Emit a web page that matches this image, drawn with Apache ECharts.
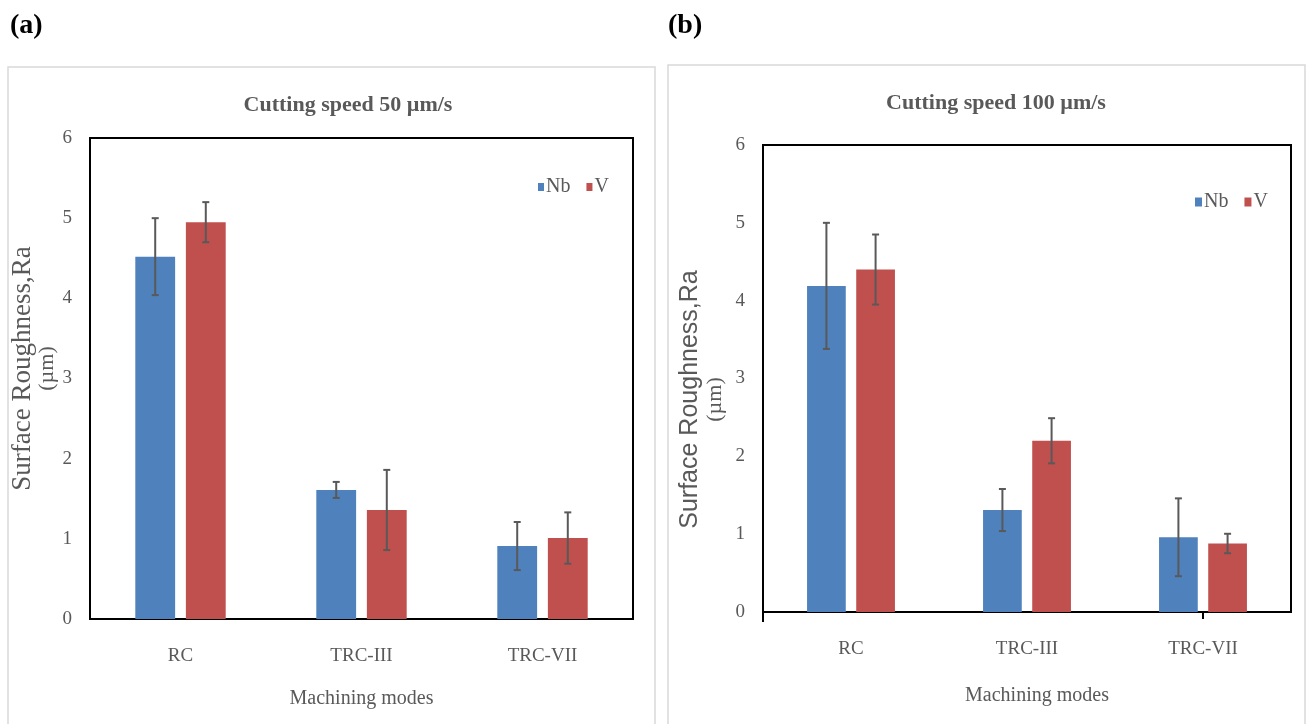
<!DOCTYPE html>
<html>
<head>
<meta charset="utf-8">
<title>Surface roughness by machining mode</title>
<script src="https://cdn.jsdelivr.net/npm/echarts@6/dist/echarts.min.js"></script>
<style>
  html, body { margin: 0; padding: 0; background: #fff; }
  #chart { width: 1309px; height: 724px; }
</style>
</head>
<body>
<div id="chart"></div>
<script>
// Machining modes on the category axis
const categories = ['RC', 'TRC-III', 'TRC-VII'];
// Value-axis tick labels
const yTicks = [0, 1, 2, 3, 4, 5, 6];

// Cutting speed 50 µm/s: mean Ra and error (±)
const nb50 = [4.52, 1.61, 0.91];
const nb50Err = [0.48, 0.10, 0.30];
const v50 = [4.95, 1.36, 1.01];
const v50Err = [0.25, 0.50, 0.32];

// Cutting speed 100 µm/s: mean Ra and error (±)
const nb100 = [4.19, 1.31, 0.96];
const nb100Err = [0.81, 0.27, 0.50];
const v100 = [4.40, 2.20, 0.88];
const v100Err = [0.45, 0.29, 0.125];

const BLUE = '#4f81bd';
const RED = '#c0504d';
const GREY = '#595959';
const SERIF = '"Liberation Serif", "DejaVu Serif", serif';
const SANS = '"Liberation Sans", Arial, sans-serif';

const BAR_FRAC = 0.22;   // bar width as share of a category band
const GAP_FRAC = 0.27;   // gap between paired bars as share of bar width

// Plot areas of the two panels
const GRID_A = { left: 90, top: 138, width: 543, height: 481 };
const GRID_B = { left: 763, top: 145, width: 528, height: 467 };

// Error whiskers centred on each bar of a pair (sign -1 = first bar, +1 = second)
function whiskers(sign) {
  return function (params, api) {
    const i = api.value(0);
    const val = api.value(1);
    const err = api.value(2);
    const band = api.size([1, 0])[0];
    const bw = band * BAR_FRAC;
    const off = sign * bw * (1 + GAP_FRAC) / 2;
    const top = api.coord([i, val + err]);
    const bot = api.coord([i, val - err]);
    const x = top[0] + off;
    const cap = 3.5;
    const style = { stroke: GREY, lineWidth: 2 };
    return {
      type: 'group',
      children: [
        { type: 'line', shape: { x1: x, y1: top[1], x2: x, y2: bot[1] }, style },
        { type: 'line', shape: { x1: x - cap, y1: top[1], x2: x + cap, y2: top[1] }, style },
        { type: 'line', shape: { x1: x - cap, y1: bot[1], x2: x + cap, y2: bot[1] }, style }
      ]
    };
  };
}

function errData(vals, errs) {
  return vals.map((v, i) => [i, v, errs[i]]);
}

function yAxisFor(gridIndex, firstLineFont, firstLineSize, namePadding, gap) {
  return {
    type: 'value', gridIndex, min: yTicks[0], max: yTicks[yTicks.length - 1], interval: 1,
    splitLine: { show: false },
    axisLine: { show: false },
    axisTick: { show: false },
    axisLabel: { color: GREY, fontFamily: SERIF, fontSize: 19, margin: 18 },
    name: '{a|Surface Roughness,Ra}\n{b|(µm)}',
    nameLocation: 'middle',
    nameGap: gap,
    nameRotate: 90,
    nameTextStyle: {
      color: GREY,
      padding: namePadding,
      rich: {
        a: { fontFamily: firstLineFont, fontSize: firstLineSize, color: GREY, lineHeight: 25 },
        b: { fontFamily: SERIF, fontSize: 22, color: GREY, lineHeight: 25 }
      }
    }
  };
}

function xAxisFor(gridIndex, labelMargin, nameGap, namePadding) {
  return {
    type: 'category', gridIndex, data: categories, position: 'bottom',
    axisLine: { show: true, lineStyle: { color: '#000', width: 2 } },
    axisTick: { show: false },
    axisLabel: { color: GREY, fontFamily: SERIF, fontSize: 19, margin: labelMargin },
    name: 'Machining modes',
    nameLocation: 'middle',
    nameGap,
    nameTextStyle: { color: GREY, fontFamily: SERIF, fontSize: 20, padding: namePadding }
  };
}

function barSeries(name, data, color, axisIndex) {
  return {
    name, type: 'bar', data,
    xAxisIndex: axisIndex, yAxisIndex: axisIndex,
    barWidth: (BAR_FRAC * 100) + '%', barGap: (GAP_FRAC * 100) + '%',
    itemStyle: { color },
    z: 2
  };
}

function errSeries(name, vals, errs, sign, axisIndex) {
  return {
    name, type: 'custom',
    xAxisIndex: axisIndex, yAxisIndex: axisIndex,
    data: errData(vals, errs),
    encode: { x: 0, y: 1 },
    renderItem: whiskers(sign),
    z: 5, silent: true
  };
}

const chart = echarts.init(document.getElementById('chart'));

chart.setOption({
  backgroundColor: '#fff',
  animation: false,
  graphic: [
    // panel frames
    { type: 'rect', shape: { x: 8, y: 67, width: 647, height: 700 },
      style: { fill: 'none', stroke: '#d9d9d9', lineWidth: 1.5 }, z: -1 },
    { type: 'rect', shape: { x: 668, y: 65, width: 637, height: 700 },
      style: { fill: 'none', stroke: '#d9d9d9', lineWidth: 1.5 }, z: -1 },
    // value axis of panel (b) runs a little past the baseline
    { type: 'line',
      shape: { x1: GRID_B.left, y1: GRID_B.top + GRID_B.height, x2: GRID_B.left, y2: GRID_B.top + GRID_B.height + 10 },
      style: { stroke: '#000', lineWidth: 2 } },
    // panel letters
    { type: 'text', left: 10, top: 12,
      style: { text: '(a)', font: 'bold 28px ' + SERIF, fill: '#000' } },
    { type: 'text', left: 668, top: 12,
      style: { text: '(b)', font: 'bold 28px ' + SERIF, fill: '#000' } },
    // chart titles
    { type: 'text', x: 348, y: 105,
      style: { text: 'Cutting speed 50 µm/s', font: 'bold 22px ' + SERIF, fill: GREY,
               align: 'center', verticalAlign: 'middle' } },
    { type: 'text', x: 996, y: 103,
      style: { text: 'Cutting speed 100 µm/s', font: 'bold 22px ' + SERIF, fill: GREY,
               align: 'center', verticalAlign: 'middle' } }
  ],
  legend: [
    { data: ['Nb', 'V'], left: 533, top: 172, icon: 'rect', itemWidth: 6, itemHeight: 8, itemGap: 16,
      textStyle: { color: GREY, fontFamily: SERIF, fontSize: 20, padding: [0, 0, 0, -3] } },
    { data: ['Nb', 'V'], left: 1190, top: 187, icon: 'rect', itemWidth: 7, itemHeight: 9, itemGap: 16,
      textStyle: { color: GREY, fontFamily: SERIF, fontSize: 20, padding: [0, 0, 0, -3] } }
  ],
  grid: [
    Object.assign({ show: true, borderColor: '#000', borderWidth: 2, backgroundColor: 'transparent' }, GRID_A),
    Object.assign({ show: true, borderColor: '#000', borderWidth: 2, backgroundColor: 'transparent' }, GRID_B)
  ],
  xAxis: [
    xAxisFor(0, 28, 70, 0),
    xAxisFor(1, 28, 74, [0, 0, 0, 20]),
    // single centred tick under the last category of panel (b)
    {
      type: 'category', gridIndex: 1, data: categories, position: 'bottom',
      axisLine: { show: false },
      axisTick: { show: true, alignWithLabel: true, interval: (i) => i === 2, length: 7,
                  lineStyle: { color: '#000', width: 2 } },
      axisLabel: { show: false }
    }
  ],
  yAxis: [
    yAxisFor(0, SERIF, 27, [0, 0, 0, 20], 27),
    yAxisFor(1, SANS, 25, [0, 42, 0, 0], 35),
  ],
  series: [
    barSeries('Nb', nb50, BLUE, 0),
    barSeries('V', v50, RED, 0),
    errSeries('Nb ±', nb50, nb50Err, -1, 0),
    errSeries('V ±', v50, v50Err, 1, 0),
    barSeries('Nb', nb100, BLUE, 1),
    barSeries('V', v100, RED, 1),
    errSeries('Nb ±', nb100, nb100Err, -1, 1),
    errSeries('V ±', v100, v100Err, 1, 1)
  ]
});
</script>
</body>
</html>
